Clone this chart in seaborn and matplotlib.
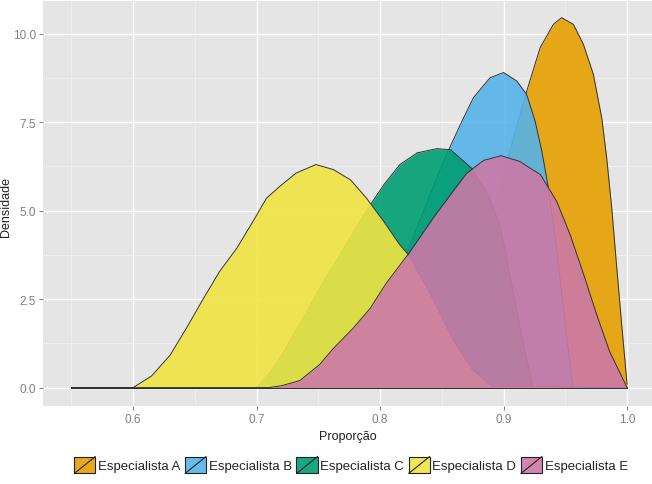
import matplotlib
matplotlib.use("Agg")
import matplotlib.pyplot as plt
import seaborn as sns
import pandas as pd
from matplotlib.patches import Patch, Rectangle
from matplotlib.lines import Line2D
from matplotlib.legend_handler import HandlerBase
from matplotlib.ticker import MultipleLocator

# Density readings for each specialist (x = proportion, y = density)
especialistas = ["Especialista A", "Especialista B", "Especialista C",
                 "Especialista D", "Especialista E"]
cores = ["#E69F00", "#56B4E9", "#009E73", "#F0E442", "#CC79A7"]

x_a = [0.55, 0.81, 0.83, 0.845, 0.86, 0.875, 0.89, 0.9036, 0.9187, 0.9296, 0.9403,
       0.947, 0.9565, 0.9646, 0.9727, 0.9795, 0.9835, 0.9876, 0.9917, 0.9957, 1.0]
y_a = [0.0, 0.0, 0.2, 0.6, 1.4, 2.8, 4.6, 6.5, 8.37, 9.6, 10.26,
       10.45, 10.26, 9.7, 8.85, 7.62, 6.49, 5.07, 3.37, 1.76, 0.1]

x_b = [0.55, 0.74, 0.76, 0.78, 0.80, 0.824, 0.849, 0.858, 0.865, 0.8756, 0.889,
       0.900, 0.9107, 0.9187, 0.9255, 0.931, 0.9363, 0.943, 0.95, 0.956, 1.0]
y_b = [0.0, 0.0, 0.2, 0.8, 2.0, 4.0, 6.2, 6.9, 7.43, 8.19, 8.75,
       8.9, 8.66, 8.28, 7.53, 6.67, 5.64, 3.9, 1.8, 0.0, 0.0]

x_c = [0.55, 0.70, 0.71, 0.72, 0.735, 0.751, 0.77, 0.789, 0.803, 0.816, 0.830,
       0.846, 0.857, 0.874, 0.888, 0.897, 0.905, 0.915, 0.924, 1.0]
y_c = [0.0, 0.0, 0.4, 0.9, 1.8, 2.8, 3.9, 5.0, 5.73, 6.3, 6.63,
       6.75, 6.72, 6.2, 5.4, 4.6, 3.2, 1.4, 0.0, 0.0]

x_d = [0.55, 0.60, 0.615, 0.63, 0.643, 0.657, 0.67, 0.684, 0.697, 0.708, 0.719,
       0.732, 0.748, 0.762, 0.776, 0.789, 0.803, 0.816, 0.823, 0.84, 0.86, 0.875,
       0.89, 1.0]
y_d = [0.0, 0.0, 0.33, 0.92, 1.67, 2.52, 3.28, 3.94, 4.69, 5.35, 5.69,
       6.06, 6.30, 6.16, 5.87, 5.35, 4.69, 4.03, 3.75, 2.7, 1.3, 0.5,
       0.05, 0.0]

x_e = [0.55, 0.71, 0.72, 0.735, 0.751, 0.762, 0.778, 0.792, 0.805, 0.823, 0.843,
       0.857, 0.870, 0.884, 0.898, 0.913, 0.930, 0.943, 0.954, 0.965, 0.9755,
       0.986, 1.0]
y_e = [0.0, 0.0, 0.05, 0.2, 0.65, 1.1, 1.67, 2.24, 2.95, 3.78, 4.79,
       5.45, 6.05, 6.42, 6.55, 6.39, 6.01, 5.26, 4.31, 3.18, 2.05,
       1.01, 0.0]

xs = [x_a, x_b, x_c, x_d, x_e]
ys = [y_a, y_b, y_c, y_d, y_e]

df = pd.concat([pd.DataFrame({"Proporção": x, "Densidade": y, "esp": nome})
                for x, y, nome in zip(xs, ys, especialistas)], ignore_index=True)

sns.set_theme(style="darkgrid", rc={
    "axes.facecolor": "#E5E5E5",
    "grid.color": "white",
    "axes.edgecolor": "#E5E5E5",
})
plt.rcParams["font.family"] = ["Liberation Sans", "DejaVu Sans"]

fig = plt.figure(figsize=(6.52, 4.85), dpi=100)
ax = fig.add_axes([43 / 652, 1 - 407 / 485, (652 - 43) / 652, (407 - 2) / 485])

# each density: fill then outline, later ones on top
for i, nome in enumerate(especialistas):
    sub = df[df["esp"] == nome]
    ax.fill_between(sub["Proporção"], sub["Densidade"], 0, color=cores[i],
                    alpha=0.9, lw=0, zorder=3 + 2 * i)
    sns.lineplot(data=sub, x="Proporção", y="Densidade", ax=ax, color="#333333",
                 lw=0.7, sort=False, estimator=None, zorder=4 + 2 * i)
    ax.plot([0.55, 1.0], [0, 0], color="#333333", lw=0.7, zorder=4 + 2 * i)

ax.set_xlim(0.527, 1.0202)
ax.set_ylim(-0.52, 10.92)
ax.set_xticks([0.6, 0.7, 0.8, 0.9, 1.0])
ax.set_xticklabels(["0.6", "0.7", "0.8", "0.9", "1.0"])
ax.set_yticks([0.0, 2.5, 5.0, 7.5, 10.0])
ax.set_yticklabels(["0.0", "2.5", "5.0", "7.5", "10.0"])
ax.xaxis.set_minor_locator(MultipleLocator(0.05))
ax.yaxis.set_minor_locator(MultipleLocator(1.25))
ax.grid(which="major", color="white", lw=1.0)
ax.grid(which="minor", color="#F2F2F2", lw=0.5)
ax.set_axisbelow(True)
ax.tick_params(which="major", length=3, width=0.7, color="#7F7F7F",
               labelcolor="#7F7F7F", labelsize=8.5, pad=2, bottom=True, left=True)
ax.tick_params(which="minor", length=0)
for s in ax.spines.values():
    s.set_visible(False)
ax.set_xlabel("")
ax.set_ylabel("")

fig.text(348 / 652, 1 - 437 / 485, "Proporção", ha="center", va="center",
         fontsize=9, color="#222222")
fig.text(6.5 / 652, 1 - 207 / 485, "Densidade", ha="center", va="center",
         rotation=90, fontsize=9, color="#222222")


class SlashKey(HandlerBase):
    def create_artists(self, legend, orig_handle, xdescent, ydescent, width,
                       height, fontsize, trans):
        r = Rectangle((-xdescent, -ydescent), width, height,
                      facecolor=orig_handle.get_facecolor(), edgecolor="#222222",
                      lw=0.8, transform=trans)
        l = Line2D([-xdescent, -xdescent + width], [-ydescent, -ydescent + height],
                   color="#222222", lw=0.8, transform=trans)
        return [r, l]


handles = [Patch(facecolor=c, alpha=0.9) for c in cores]
fig.legend(handles, especialistas, loc="center", ncol=5, frameon=False,
           bbox_to_anchor=(351 / 652, 1 - 466 / 485), fontsize=9.5,
           handler_map={Patch: SlashKey()}, handlelength=1.6, handleheight=1.6,
           handletextpad=0.2, columnspacing=0.35, labelcolor="#222222")

fig.savefig("out.png", dpi=100)
